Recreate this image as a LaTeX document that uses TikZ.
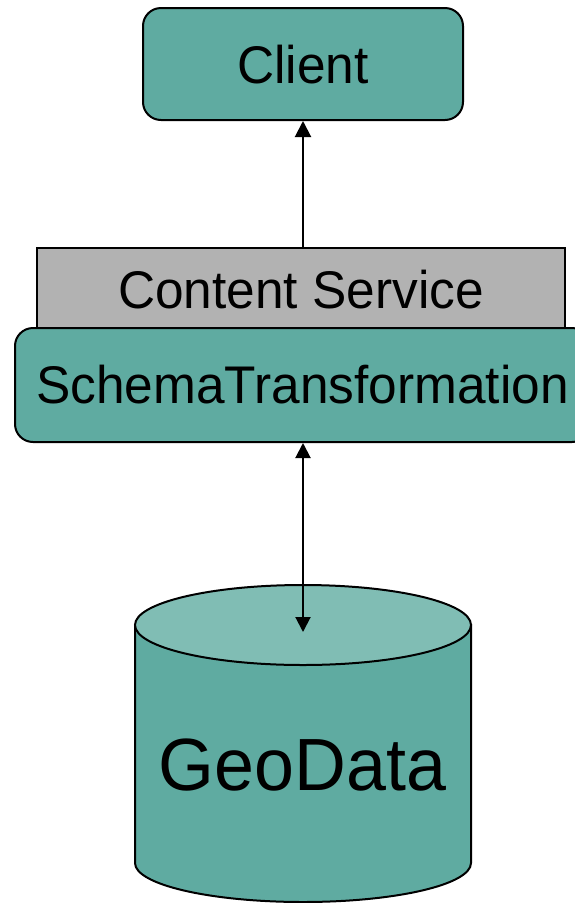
\documentclass[tikz,border=0pt]{standalone}
\usepackage{fontspec}
\setmainfont{Liberation Sans}[FakeStretch=0.97]
\usetikzlibrary{arrows.meta}
\definecolor{tealfill}{HTML}{5FABA1}
\definecolor{tealtop}{HTML}{80BDB4}
\definecolor{grayfill}{HTML}{B2B2B2}
\tikzset{
  box/.style={draw=black, line width=2pt, inner sep=0pt, align=center, text depth=0pt},
  tealbox/.style={box, fill=tealfill, rounded corners=18pt},
  graybox/.style={box, fill=grayfill},
  bigtext/.style={font=\fontsize{53}{60}\selectfont},
  conn/.style={line width=2pt, -{Triangle[length=16pt,width=16pt]}},
  dconn/.style={line width=2pt, {Triangle[length=15pt,width=15pt]}-{Triangle[length=15pt,width=15pt]}}
}
\begin{document}
\begin{tikzpicture}[x=1pt,y=-1pt]
\useasboundingbox (0,0) rectangle (575,903);
% boxes
\node[tealbox, bigtext, minimum width=320pt, minimum height=112pt, text height=38pt] (client) at (303,64) {Client};
\node[graybox, bigtext, minimum width=528pt, minimum height=80pt, text height=40pt] (content) at (301,288) {Content Service};
\node[tealbox, bigtext, minimum width=575pt, minimum height=114pt, text height=36pt] (schema) at (302.5,385) {SchemaTransformation};
% cylinder
\draw[line width=2pt, fill=tealfill] (135,625) -- (135,863)
  arc[start angle=180, end angle=360, x radius=168pt, y radius=39pt] -- (471,625) -- cycle;
\draw[line width=2pt, fill=tealtop] (303,625) ellipse[x radius=168pt, y radius=40pt];
\node[font=\fontsize{74}{80}\selectfont, anchor=base, inner sep=0pt] (geodata) at (302.5,790) {GeoData};
\coordinate (dbtip) at (303,632);
% connectors
\draw[conn] (client.south |- content.north) -- (client.south);
\draw[dconn] (schema.south -| dbtip) -- (dbtip);
\end{tikzpicture}
\end{document}
